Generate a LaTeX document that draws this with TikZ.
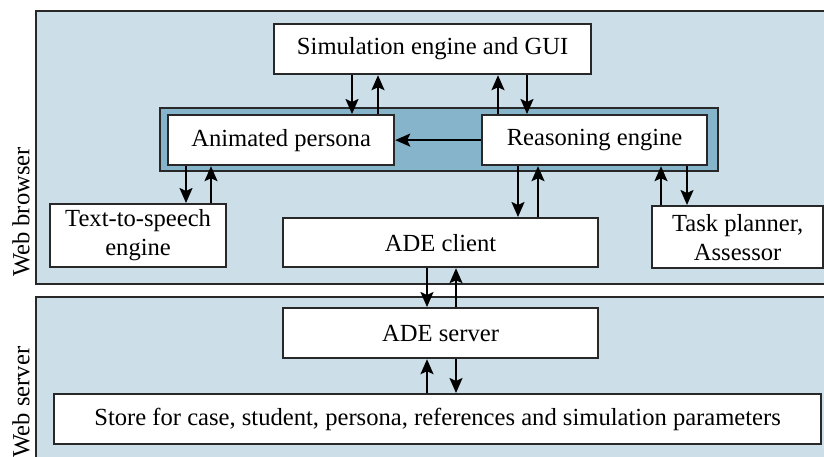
\documentclass[tikz,border=0pt]{standalone}
\usepackage{fontspec}
\setmainfont{Liberation Serif}
\usetikzlibrary{arrows.meta,calc}
\definecolor{bgblue}{RGB}{204,222,232}
\definecolor{midblue}{RGB}{134,180,202}
\definecolor{edge}{RGB}{40,40,40}
\tikzset{
  region/.style={draw=edge, line width=2.2pt, fill=bgblue},
  box/.style={draw=edge, line width=2.2pt, fill=white, inner sep=0pt, anchor=north west, align=center, font=\fontsize{24.6}{29}\selectfont},
  arr/.style={line width=2pt, -{Stealth[length=15pt,width=13pt,inset=3pt]}},
  lbl/.style={rotate=90, font=\fontsize{24.6}{29}\selectfont, inner sep=0pt}
}
\begin{document}
\begin{tikzpicture}[x=1pt,y=-1pt]
\useasboundingbox (0,0) rectangle (824,456);
\clip (0,0) rectangle (824,456);
\fill[white] (0,0) rectangle (824,456);
% regions
\node[region, inner sep=0pt, anchor=north west, minimum width=800pt, minimum height=273pt] (browser) at (35,10) {};
\node[region, inner sep=0pt, anchor=north west, minimum width=800pt, minimum height=180pt] (server) at (35,296) {};
\node[lbl] (lb) at (21,212) {Web browser};
\node[lbl] (ls) at (21,402) {Web server};
% container
\node[draw=edge, line width=2.2pt, fill=midblue, inner sep=0pt, anchor=north west, minimum width=558pt, minimum height=63pt] (cont) at (159,107) {};
% boxes
\node[box, minimum width=317pt, minimum height=50pt] (sim) at (273,23) {Simulation engine and GUI};
\node[box, minimum width=226pt, minimum height=50pt] (anim) at (167,114) {Animated persona};
\node[box, minimum width=225pt, minimum height=50pt] (reas) at (481,114) {Reasoning engine};
\node[box, minimum width=176pt, minimum height=63pt] (tts) at (49,203) {Text-to-speech\\engine};
\node[box, minimum width=315pt, minimum height=49pt] (cli) at (282,217) {ADE client};
\node[box, minimum width=171pt, minimum height=62pt] (task) at (651,205) {Task planner,\\Assessor};
\node[box, minimum width=315pt, minimum height=50pt] (srv) at (282,307) {ADE server};
\node[box, minimum width=767pt, minimum height=50pt] (store) at (53,393) {Store for case, student, persona, references and simulation parameters};
% arrow x positions
\coordinate (x1) at (352,0);
\coordinate (x2) at (378,0);
\coordinate (x3) at (498,0);
\coordinate (x4) at (527,0);
\coordinate (x5) at (186,0);
\coordinate (x6) at (211,0);
\coordinate (x7) at (518,0);
\coordinate (x8) at (538,0);
\coordinate (x9) at (661,0);
\coordinate (x10) at (687,0);
\coordinate (x11) at (427,0);
\coordinate (x12) at (456,0);
% arrows
\draw[arr] (sim.south -| x1) -- (anim.north -| x1);
\draw[arr] (anim.north -| x2) -- (sim.south -| x2);
\draw[arr] (reas.north -| x3) -- (sim.south -| x3);
\draw[arr] (sim.south -| x4) -- (reas.north -| x4);
\draw[arr] (reas.west) -- (anim.east);
\draw[arr] (anim.south -| x5) -- (tts.north -| x5);
\draw[arr] (tts.north -| x6) -- (anim.south -| x6);
\draw[arr] (reas.south -| x7) -- (cli.north -| x7);
\draw[arr] (cli.north -| x8) -- (reas.south -| x8);
\draw[arr] (task.north -| x9) -- (reas.south -| x9);
\draw[arr] (reas.south -| x10) -- (task.north -| x10);
\draw[arr] (cli.south -| x11) -- (srv.north -| x11);
\draw[arr] (srv.north -| x12) -- (cli.south -| x12);
\draw[arr] (store.north -| x11) -- (srv.south -| x11);
\draw[arr] (srv.south -| x12) -- (store.north -| x12);
\end{tikzpicture}
\end{document}
